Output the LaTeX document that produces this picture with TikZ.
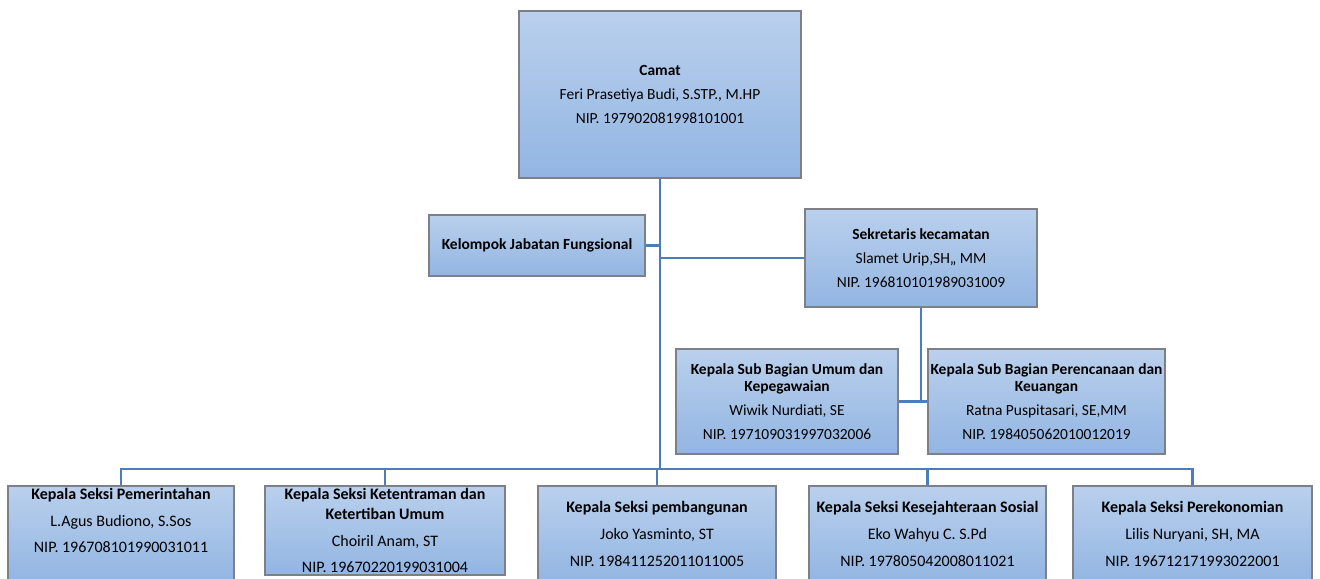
\documentclass[tikz,border=0pt]{standalone}
\usepackage{fontspec}
\setmainfont{Carlito}
\newdimen\px \px=0.75pt
\definecolor{boxtop}{RGB}{186,208,237}
\definecolor{boxbot}{RGB}{146,181,226}
\definecolor{boxedge}{RGB}{125,128,134}
\definecolor{linkblue}{RGB}{74,126,187}
\newcommand{\gap}{\\[5pt]}
\begin{document}
\begin{tikzpicture}[x=0.75pt,y=-0.75pt]
\tikzstyle{every node}+=[inner sep=0pt]
\tikzstyle{unit}=[draw=boxedge, line width=0.8pt, top color=boxtop, bottom color=boxbot, align=center, font=\fontsize{11.6}{13}\selectfont]
\tikzstyle{seksi}=[unit, font=\fontsize{12}{15}\selectfont]
\tikzstyle{link}=[draw=linkblue, line width=2.2pt]
\clip (0,0) rectangle (1320,578);
\node [unit, minimum width=282\px, minimum height=167\px] (camat) at (660,94.5) {\textbf{Camat}\gap Feri Prasetiya Budi, S.STP., M.HP\gap NIP. 197902081998101001};
\node [unit, minimum width=216\px, minimum height=61\px] (kjf) at (537,245.5) {\textbf{Kelompok Jabatan Fungsional}};
\node [unit, minimum width=232\px, minimum height=98\px] (sek) at (921,258) {\textbf{Sekretaris kecamatan}\gap Slamet Urip,SH,, MM\gap NIP. 196810101989031009};
\node [unit, minimum width=222\px, minimum height=105\px] (suba) at (787,401.5) {\textbf{Kepala Sub Bagian Umum dan}\\\textbf{Kepegawaian}\gap Wiwik Nurdiati, SE\gap NIP. 197109031997032006};
\node [unit, minimum width=237\px, minimum height=105\px] (subb) at (1046.5,401.5) {\textbf{Kepala Sub Bagian Perencanaan dan}\\\textbf{Keuangan}\gap Ratna Puspitasari, SE,MM\gap NIP. 198405062010012019};
\node [seksi, minimum width=226\px, minimum height=96\px] (s1) at (121,534) {\textbf{Kepala Seksi Pemerintahan}\gap L.Agus Budiono, S.Sos\gap NIP. 196708101990031011\gap\mbox{}};
\node [seksi, minimum width=240\px, minimum height=89\px] (s2) at (385,530.5) {\textbf{Kepala Seksi Ketentraman dan}\\\textbf{Ketertiban Umum}\gap Choiril Anam, ST\gap NIP. 19670220199031004};
\node [seksi, minimum width=238\px, minimum height=96\px] (s3) at (657,534) {\textbf{Kepala Seksi pembangunan}\gap Joko Yasminto, ST\gap NIP. 198411252011011005};
\node [seksi, minimum width=237\px, minimum height=96\px] (s4) at (927.5,534) {\textbf{Kepala Seksi Kesejahteraan Sosial}\gap Eko Wahyu C. S.Pd\gap NIP. 197805042008011021};
\node [seksi, minimum width=239\px, minimum height=96\px] (s5) at (1192.5,534) {\textbf{Kepala Seksi Perekonomian}\gap Lilis Nuryani, SH, MA\gap NIP. 196712171993022001};
\coordinate (bus) at (660,469);
\draw [link] (camat.south) -- (bus);
\draw [link] (kjf.east) -- (kjf.east -| bus);
\draw [link] (sek.west) -- (sek.west -| bus);
\draw [link] (sek.south) -- (sek.south |- suba.east);
\draw [link] (suba.east) -- (subb.west);
\draw [link] (s1.north) |- (bus) -| (s5.north);
\draw [link] (s2.north) -- (s2.north |- bus);
\draw [link] (s3.north) -- (s3.north |- bus);
\draw [link] (s4.north) -- (s4.north |- bus);
\end{tikzpicture}
\end{document}
